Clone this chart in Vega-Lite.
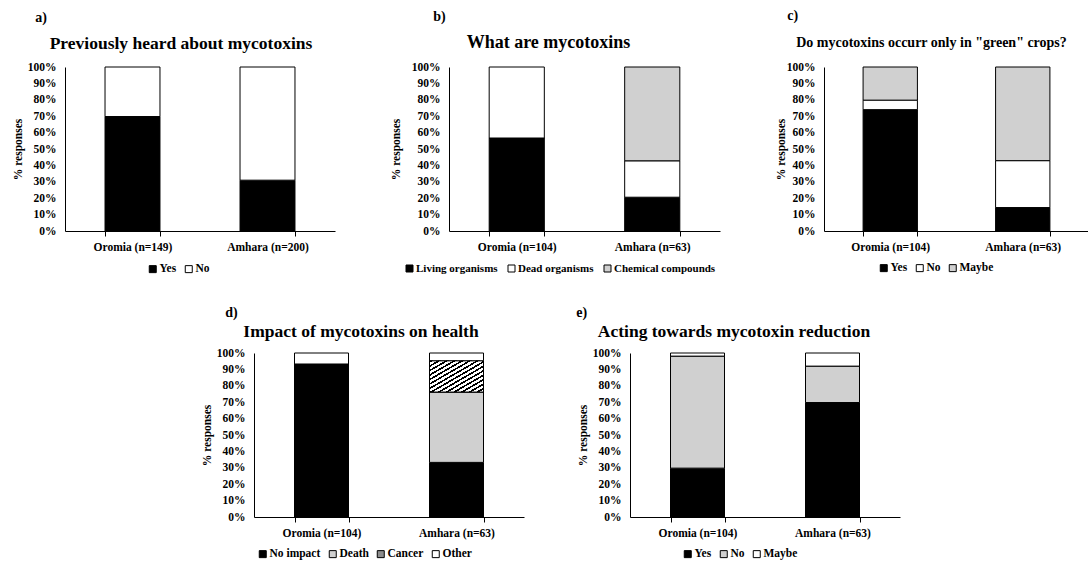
{
  "$schema": "https://vega.github.io/schema/vega-lite/v6.json",
  "padding": {"left": 12, "top": 9, "right": 0, "bottom": 0},
  "spacing": 30,
  "center": true,
  "resolve": {"scale": {"color": "independent"}, "legend": {"color": "independent"}},
  "vconcat": [
    {
      "spacing": 55,
      "resolve": {"scale": {"color": "independent"}, "legend": {"color": "independent"}},
      "hconcat": [
        {
          "title": {"text": "a)", "anchor": "start", "fontSize": 14, "dx": 23, "offset": 10},
          "vconcat": [
            {
              "width": 270, "height": 164,
              "title": {"text": "Previously heard about mycotoxins", "fontSize": 17.5, "dx": -19, "offset": 9},
              "data": {"values": [
                {"region": "Oromia (n=149)", "answer": "Yes", "pct": 69.8},
                {"region": "Oromia (n=149)", "answer": "No", "pct": 30.2},
                {"region": "Amhara (n=200)", "answer": "Yes", "pct": 31.0},
                {"region": "Amhara (n=200)", "answer": "No", "pct": 69.0}
              ]},
              "mark": {"type": "bar", "stroke": "black", "strokeWidth": 1},
              "encoding": {
                "x": {"field": "region", "type": "nominal", "sort": ["Oromia (n=149)", "Amhara (n=200)"], "scale": {"paddingInner": 0.593, "paddingOuter": 0.2965}, "axis": {"title": null}},
                "y": {"field": "pct", "type": "quantitative", "stack": "zero", "scale": {"domain": [0, 100]}, "axis": {"title": "% responses", "values": [0, 10, 20, 30, 40, 50, 60, 70, 80, 90, 100]}},
                "color": {"field": "answer", "type": "nominal", "sort": ["Yes", "No"], "scale": {"domain": ["Yes", "No"], "range": ["black", "white"]}, "legend": {"title": null, "orient": "none", "legendX": 82, "legendY": 196}}
              }
            }
          ]
        },
        {
          "title": {"text": "b)", "anchor": "start", "fontSize": 14, "dx": 43, "offset": 10},
          "vconcat": [
            {
              "width": 271, "height": 164,
              "title": {"text": "What are mycotoxins", "fontSize": 18, "dx": -36, "offset": 9},
              "data": {"values": [
                {"region": "Oromia (n=104)", "answer": "Living organisms", "pct": 56.7},
                {"region": "Oromia (n=104)", "answer": "Dead organisms", "pct": 43.3},
                {"region": "Amhara (n=63)", "answer": "Living organisms", "pct": 20.6},
                {"region": "Amhara (n=63)", "answer": "Dead organisms", "pct": 22.2},
                {"region": "Amhara (n=63)", "answer": "Chemical compounds", "pct": 57.2}
              ]},
              "mark": {"type": "bar", "stroke": "black", "strokeWidth": 1},
              "encoding": {
                "x": {"field": "region", "type": "nominal", "sort": ["Oromia (n=104)", "Amhara (n=63)"], "scale": {"paddingInner": 0.593, "paddingOuter": 0.2965}, "axis": {"title": null}},
                "y": {"field": "pct", "type": "quantitative", "stack": "zero", "scale": {"domain": [0, 100]}, "axis": {"title": "% responses", "titlePadding": 10, "values": [0, 10, 20, 30, 40, 50, 60, 70, 80, 90, 100]}},
                "color": {"field": "answer", "type": "nominal", "sort": ["Living organisms", "Dead organisms", "Chemical compounds"], "scale": {"domain": ["Living organisms", "Dead organisms", "Chemical compounds"], "range": ["black", "white", "#d0d0d0"]}, "legend": {"title": null, "orient": "none", "legendX": -45, "legendY": 196, "labelFontSize": 11, "columnPadding": 8}}
              }
            }
          ]
        },
        {
          "title": {"text": "c)", "anchor": "start", "fontSize": 14, "dx": 12, "offset": 13},
          "vconcat": [
            {
              "width": 265, "height": 164,
              "title": {"text": "Do mycotoxins occurr only in \"green\" crops?", "fontSize": 14, "dx": -25, "offset": 11},
              "data": {"values": [
                {"region": "Oromia (n=104)", "answer": "Yes", "pct": 74.0},
                {"region": "Oromia (n=104)", "answer": "No", "pct": 5.8},
                {"region": "Oromia (n=104)", "answer": "Maybe", "pct": 20.2},
                {"region": "Amhara (n=63)", "answer": "Yes", "pct": 14.3},
                {"region": "Amhara (n=63)", "answer": "No", "pct": 28.6},
                {"region": "Amhara (n=63)", "answer": "Maybe", "pct": 57.1}
              ]},
              "mark": {"type": "bar", "stroke": "black", "strokeWidth": 1},
              "encoding": {
                "x": {"field": "region", "type": "nominal", "sort": ["Oromia (n=104)", "Amhara (n=63)"], "scale": {"paddingInner": 0.59, "paddingOuter": 0.295}, "axis": {"title": null}},
                "y": {"field": "pct", "type": "quantitative", "stack": "zero", "scale": {"domain": [0, 100]}, "axis": {"title": "% responses", "titlePadding": 0, "values": [0, 10, 20, 30, 40, 50, 60, 70, 80, 90, 100]}},
                "color": {"field": "answer", "type": "nominal", "sort": ["Yes", "No", "Maybe"], "scale": {"domain": ["Yes", "No", "Maybe"], "range": ["black", "white", "#d0d0d0"]}, "legend": {"title": null, "orient": "none", "legendX": 54, "legendY": 195}}
              }
            }
          ]
        }
      ]
    },
    {
      "spacing": 52,
      "resolve": {"scale": {"color": "independent"}, "legend": {"color": "independent"}},
      "hconcat": [
        {
          "title": {"text": "d)", "anchor": "start", "fontSize": 14, "dx": 24, "offset": 3},
          "vconcat": [
            {
              "width": 270, "height": 164,
              "title": {"text": "Impact of mycotoxins on health", "fontSize": 17.5, "dx": -28, "offset": 7},
              "data": {"values": [
                {"region": "Oromia (n=104)", "answer": "No impact", "ord": 1, "pct": 93.3},
                {"region": "Oromia (n=104)", "answer": "Other", "ord": 4, "pct": 6.7},
                {"region": "Amhara (n=63)", "answer": "No impact", "ord": 1, "pct": 33.3},
                {"region": "Amhara (n=63)", "answer": "Death", "ord": 2, "pct": 42.9},
                {"region": "Amhara (n=63)", "answer": "Cancer", "ord": 3, "pct": 19.0},
                {"region": "Amhara (n=63)", "answer": "Other", "ord": 4, "pct": 4.8}
              ]},
              "transform": [{"stack": "pct", "groupby": ["region"], "sort": [{"field": "ord", "order": "ascending"}], "as": ["y0", "y1"]}],
              "encoding": {
                "x": {"field": "region", "type": "nominal", "sort": ["Oromia (n=104)", "Amhara (n=63)"], "scale": {"paddingInner": 0.6, "paddingOuter": 0.3}, "axis": {"title": null}},
                "y": {"field": "y0", "type": "quantitative", "scale": {"domain": [0, 100]}, "axis": {"title": "% responses", "values": [0, 10, 20, 30, 40, 50, 60, 70, 80, 90, 100]}},
                "y2": {"field": "y1"}
              },
              "layer": [
                {
                  "mark": {"type": "bar", "stroke": "black", "strokeWidth": 1},
                  "encoding": {
                    "color": {"field": "answer", "type": "nominal", "sort": ["No impact", "Death", "Cancer", "Other"], "scale": {"domain": ["No impact", "Death", "Cancer", "Other"], "range": ["black", "#d0d0d0", "#8c8c8c", "white"]}, "legend": {"title": null, "orient": "none", "legendX": 3, "legendY": 195}}
                  }
                },
                {
                  "transform": [{"filter": "datum.answer === 'Cancer'"}],
                  "mark": {"type": "bar", "stroke": "black", "strokeWidth": 1, "fill": {"gradient": "linear", "x1": 0, "y1": 0, "x2": 1, "y2": 1, "stops": [
                    {"offset": 0, "color": "black"}, {"offset": 0.03, "color": "black"}, {"offset": 0.03, "color": "white"}, {"offset": 0.0714, "color": "white"},
                    {"offset": 0.0714, "color": "black"}, {"offset": 0.1014, "color": "black"}, {"offset": 0.1014, "color": "white"}, {"offset": 0.1429, "color": "white"},
                    {"offset": 0.1429, "color": "black"}, {"offset": 0.1729, "color": "black"}, {"offset": 0.1729, "color": "white"}, {"offset": 0.2143, "color": "white"},
                    {"offset": 0.2143, "color": "black"}, {"offset": 0.2443, "color": "black"}, {"offset": 0.2443, "color": "white"}, {"offset": 0.2857, "color": "white"},
                    {"offset": 0.2857, "color": "black"}, {"offset": 0.3157, "color": "black"}, {"offset": 0.3157, "color": "white"}, {"offset": 0.3571, "color": "white"},
                    {"offset": 0.3571, "color": "black"}, {"offset": 0.3871, "color": "black"}, {"offset": 0.3871, "color": "white"}, {"offset": 0.4286, "color": "white"},
                    {"offset": 0.4286, "color": "black"}, {"offset": 0.4586, "color": "black"}, {"offset": 0.4586, "color": "white"}, {"offset": 0.5, "color": "white"},
                    {"offset": 0.5, "color": "black"}, {"offset": 0.53, "color": "black"}, {"offset": 0.53, "color": "white"}, {"offset": 0.5714, "color": "white"},
                    {"offset": 0.5714, "color": "black"}, {"offset": 0.6014, "color": "black"}, {"offset": 0.6014, "color": "white"}, {"offset": 0.6429, "color": "white"},
                    {"offset": 0.6429, "color": "black"}, {"offset": 0.6729, "color": "black"}, {"offset": 0.6729, "color": "white"}, {"offset": 0.7143, "color": "white"},
                    {"offset": 0.7143, "color": "black"}, {"offset": 0.7443, "color": "black"}, {"offset": 0.7443, "color": "white"}, {"offset": 0.7857, "color": "white"},
                    {"offset": 0.7857, "color": "black"}, {"offset": 0.8157, "color": "black"}, {"offset": 0.8157, "color": "white"}, {"offset": 0.8571, "color": "white"},
                    {"offset": 0.8571, "color": "black"}, {"offset": 0.8871, "color": "black"}, {"offset": 0.8871, "color": "white"}, {"offset": 0.9286, "color": "white"},
                    {"offset": 0.9286, "color": "black"}, {"offset": 0.9586, "color": "black"}, {"offset": 0.9586, "color": "white"}, {"offset": 1, "color": "white"}
                  ]}}
                }
              ]
            }
          ]
        },
        {
          "title": {"text": "e)", "anchor": "start", "fontSize": 14, "dx": -1, "offset": 3},
          "vconcat": [
            {
              "width": 270, "height": 164,
              "title": {"text": "Acting towards mycotoxin reduction", "fontSize": 17.5, "dx": -31, "offset": 7},
              "data": {"values": [
                {"region": "Oromia (n=104)", "answer": "Yes", "pct": 29.8},
                {"region": "Oromia (n=104)", "answer": "No", "pct": 68.3},
                {"region": "Oromia (n=104)", "answer": "Maybe", "pct": 1.9},
                {"region": "Amhara (n=63)", "answer": "Yes", "pct": 69.8},
                {"region": "Amhara (n=63)", "answer": "No", "pct": 22.2},
                {"region": "Amhara (n=63)", "answer": "Maybe", "pct": 8.0}
              ]},
              "mark": {"type": "bar", "stroke": "black", "strokeWidth": 1},
              "encoding": {
                "x": {"field": "region", "type": "nominal", "sort": ["Oromia (n=104)", "Amhara (n=63)"], "scale": {"paddingInner": 0.6, "paddingOuter": 0.3}, "axis": {"title": null}},
                "y": {"field": "pct", "type": "quantitative", "stack": "zero", "scale": {"domain": [0, 100]}, "axis": {"title": "% responses", "values": [0, 10, 20, 30, 40, 50, 60, 70, 80, 90, 100]}},
                "color": {"field": "answer", "type": "nominal", "sort": ["Yes", "No", "Maybe"], "scale": {"domain": ["Yes", "No", "Maybe"], "range": ["black", "#d0d0d0", "white"]}, "legend": {"title": null, "orient": "none", "legendX": 52, "legendY": 195}}
              }
            }
          ]
        }
      ]
    }
  ],
  "config": {
    "font": "Liberation Serif",
    "view": {"stroke": null},
    "style": {"guide-label": {"font": "Liberation Serif", "fontWeight": "bold"}, "guide-title": {"font": "Liberation Serif", "fontWeight": "bold"}, "group-title": {"font": "Liberation Serif"}},
    "title": {"font": "Liberation Serif", "fontWeight": "bold", "color": "black", "anchor": "middle"},
    "axis": {"labelFont": "Liberation Serif", "titleFont": "Liberation Serif", "labelFontWeight": "bold", "titleFontWeight": "bold", "labelColor": "black", "titleColor": "black", "domainColor": "black", "tickColor": "black", "grid": false},
    "axisX": {"labelAngle": 0, "labelFontSize": 11.5, "tickBand": "extent", "ticks": true, "tickSize": 5, "labelPadding": 5, "domainWidth": 1},
    "axisY": {"labelExpr": "datum.value + '%'", "labelOverlap": false, "ticks": false, "labelFontSize": 11.5, "titleFontSize": 11.5, "titlePadding": 4, "labelPadding": 9, "domainWidth": 1},
    "legend": {"direction": "horizontal", "symbolType": "square", "symbolSize": 49, "symbolStrokeColor": "black", "symbolStrokeWidth": 1, "labelFont": "Liberation Serif", "labelFontWeight": "bold", "labelFontSize": 11.5, "labelColor": "black", "labelOffset": 1, "columnPadding": 6}
  }
}
